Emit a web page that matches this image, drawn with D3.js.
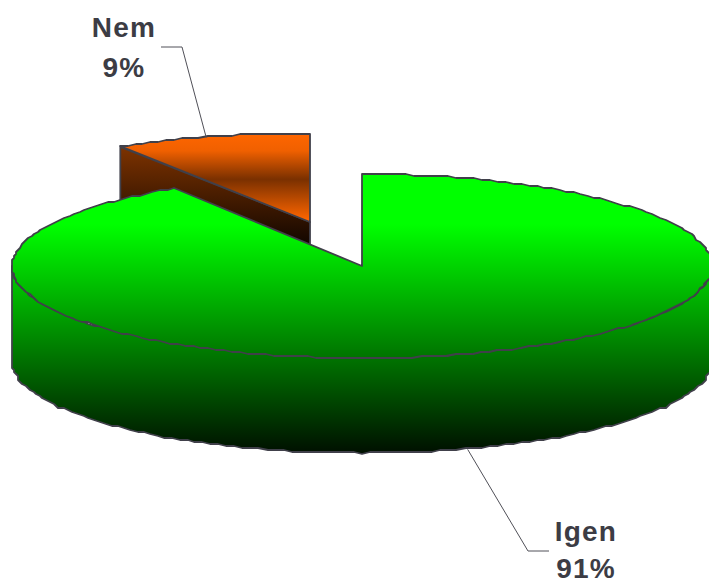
<!DOCTYPE html>
<html>
<head>
<meta charset="utf-8">
<script src="https://cdn.jsdelivr.net/npm/d3@7"></script>
<style>
  html, body { margin: 0; padding: 0; background: #fff; overflow: hidden; }
  svg { display: block; }
  text { font-family: "Liberation Sans", Arial, sans-serif; font-weight: bold; font-size: 28px; fill: #3c3c44; letter-spacing: 1.2px; text-anchor: middle; }
</style>
</head>
<body>
<div id="chart"></div>
<script>
const categories = ['Igen', 'Nem'];
const values = [91, 9];
const percentLabels = ['91%', '9%'];

const width = 709, height = 584;
const stroke = '#40404a';

const svg = d3.select('#chart').append('svg')
    .attr('width', width)
    .attr('height', height);

// 3d pie geometry, every slice is an ellipse with a wall under it
const depth = 95;
const rx = {Igen: 350, Nem: 354};
const ry = {Igen: 92, Nem: 89};
const center = {Igen: [362, 266], Nem: [310, 222]};
// leader: nudge of the start on the rim, then bend and end of the line
const leader = {
  Igen: {nudge: [8, 0], bend: [528, 551], end: [549, 551]},
  Nem: {nudge: [-5, 1], bend: [182, 47], end: [161, 47]}
};
const labelAt = {Igen: {x: 586, y: 541, dy: 37}, Nem: {x: 124, y: 37, dy: 40}};

const slices = d3.pie().sort(null)(values);

const defs = svg.append('defs');
function gradient(id, y1, y2, stops) {
  const g = defs.append('linearGradient')
      .attr('id', id)
      .attr('gradientUnits', 'userSpaceOnUse')
      .attr('x1', 0).attr('x2', 0)
      .attr('y1', y1).attr('y2', y2);
  stops.forEach(s => g.append('stop').attr('offset', s[0]).attr('stop-color', s[1]));
}
gradient('greenFill', 174, 453, [[0, '#00ff00'], [0.18, '#00ff00'], [1, '#001000']]);
gradient('orangeTop', 133, 222, [[0, '#ff6600'], [0.2, '#f06000'], [0.52, '#7a3000'], [0.98, '#ff6600']]);
gradient('orangeWall', 148, 250, [[0, '#7c3200'], [1, '#0c0400']]);

function point(name, a, dy) {
  const c = center[name];
  return [c[0] + rx[name] * Math.sin(a), c[1] - ry[name] * Math.cos(a) + (dy || 0)];
}
// rim snapped to 2px, same slightly stepped edge as the original
function rim(name, a0, a1, dy) {
  const n = Math.max(2, Math.ceil(Math.abs(a1 - a0) / 0.025));
  return d3.range(n + 1).map(i => point(name, a0 + (a1 - a0) * i / n, dy).map(v => Math.round(v / 2) * 2));
}
const line = d3.line();

function addPath(pts, fill) {
  svg.append('path')
      .attr('d', line(pts) + 'Z')
      .attr('fill', fill)
      .attr('stroke', stroke)
      .attr('stroke-width', 1.8)
      .attr('stroke-linejoin', 'round');
}

// orange slice goes first, the green one covers its lower part
const nem = slices[1], igen = slices[0];
const cN = center.Nem, cI = center.Igen;
const nemStart = point('Nem', nem.startAngle);
addPath([nemStart, cN, [cN[0], cN[1] + depth], [nemStart[0], nemStart[1] + depth]], 'url(#orangeWall)');
addPath(rim('Nem', nem.startAngle, nem.endAngle).concat([cN]), 'url(#orangeTop)');

// green wall: only the front half of the rim can be seen
const wallTop = rim('Igen', Math.PI / 2, Math.PI * 1.5);
const wallBottom = rim('Igen', Math.PI * 1.5, Math.PI / 2, depth);
addPath(wallTop.concat(wallBottom), 'url(#greenFill)');
addPath(rim('Igen', igen.startAngle, igen.endAngle).concat([cI]), 'url(#greenFill)');

// leader lines start on the rim at the middle of each slice
categories.forEach((name, i) => {
  const s = slices[i];
  const mid = (s.startAngle + s.endAngle) / 2;
  const l = leader[name];
  const p = point(name, mid, name === 'Igen' ? depth : 0);
  const start = [p[0] + l.nudge[0], p[1] + l.nudge[1]];
  svg.append('path')
      .attr('d', line([start, l.bend, l.end]))
      .attr('fill', 'none')
      .attr('stroke', '#505058')
      .attr('stroke-width', 1);

  const at = labelAt[name];
  const t = svg.append('text').attr('x', at.x).attr('y', at.y);
  t.append('tspan').attr('x', at.x).text(name);
  t.append('tspan').attr('x', at.x).attr('dy', at.dy).text(percentLabels[i]);
});
</script>
</body>
</html>
